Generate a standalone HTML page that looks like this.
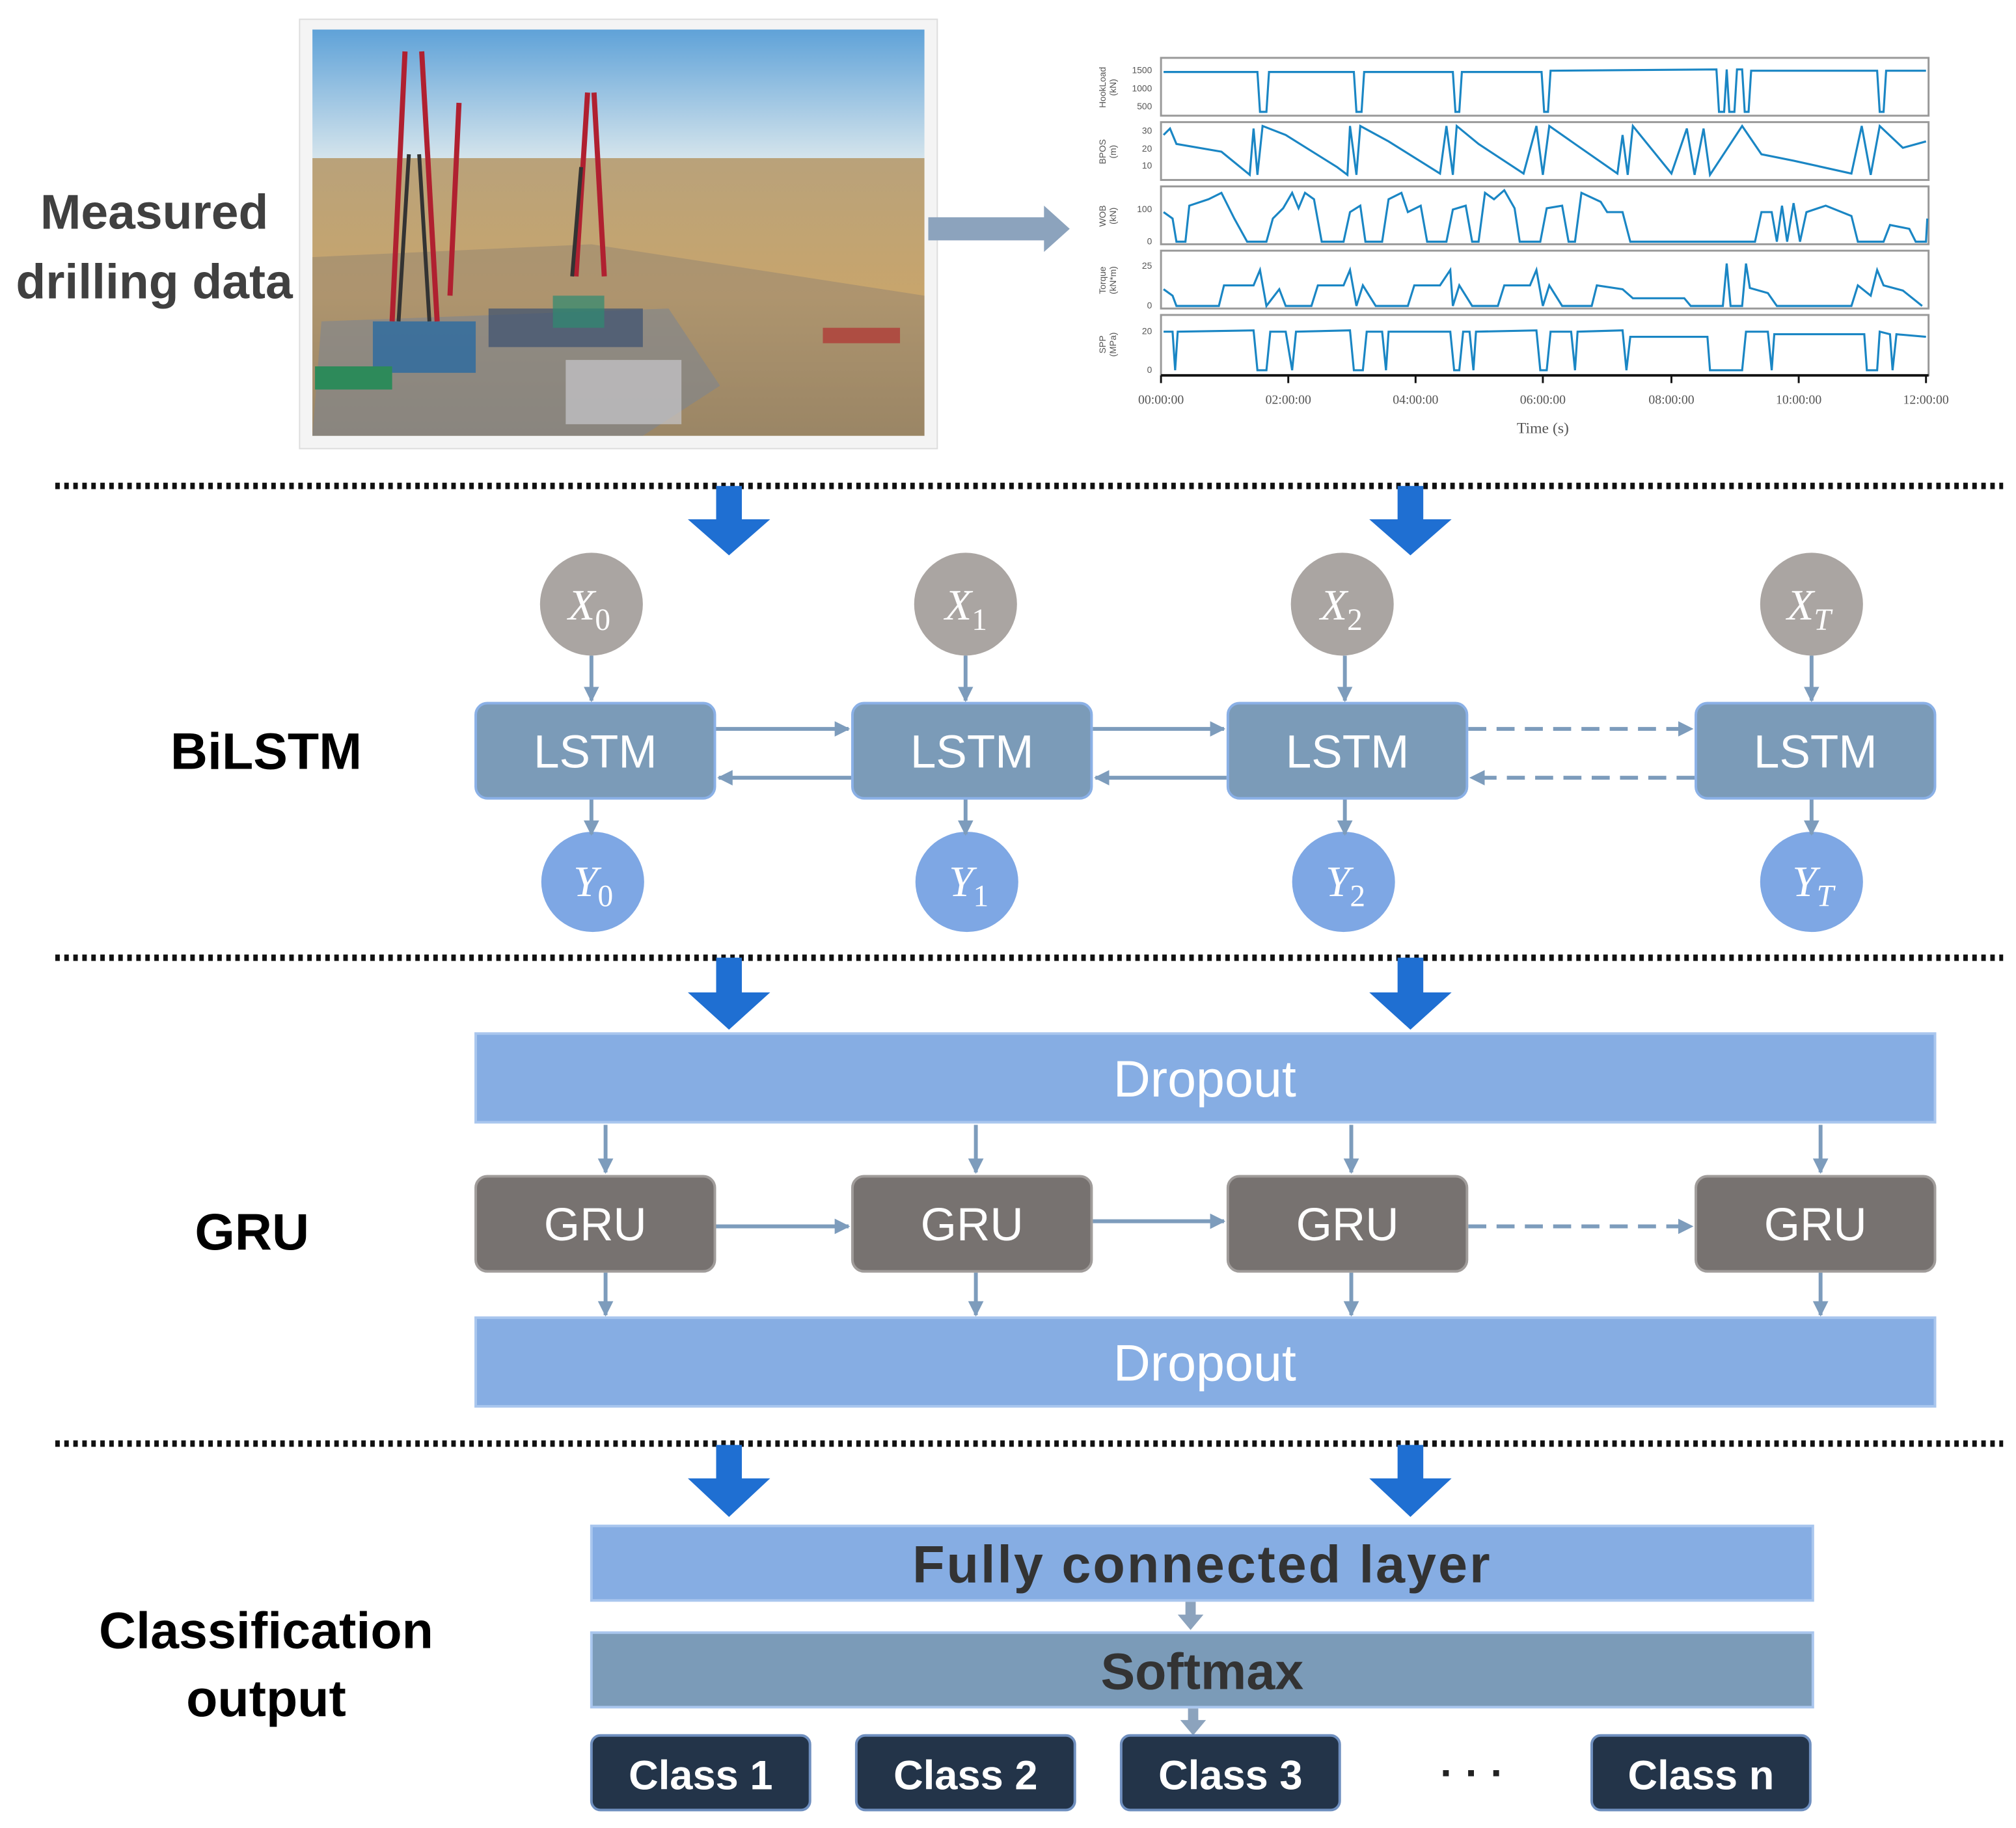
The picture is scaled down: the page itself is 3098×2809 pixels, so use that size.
<!DOCTYPE html>
<html><head><meta charset="utf-8"><style>
html,body{margin:0;padding:0;background:#fff;}
svg{display:block;}
</style></head><body>
<svg width="3098" height="2809" viewBox="0 0 1568 1422" preserveAspectRatio="none" xmlns="http://www.w3.org/2000/svg" font-family="Liberation Sans, sans-serif">
<defs>
<linearGradient id="sky" x1="0" y1="0" x2="0" y2="1"><stop offset="0" stop-color="#5fa2d8"/><stop offset="1" stop-color="#d4e4ec"/></linearGradient>
<linearGradient id="field" x1="0" y1="0" x2="0" y2="1"><stop offset="0" stop-color="#b9a27a"/><stop offset="0.5" stop-color="#c8a56c"/><stop offset="1" stop-color="#a58a5c"/></linearGradient>
<marker id="ah" viewBox="0 0 10 10" refX="9" refY="5" markerWidth="4" markerHeight="4" orient="auto"><path d="M0,0 L10,5 L0,10 z" fill="#7d9cbc"/></marker>
</defs>

<!-- photo -->
<rect x="233" y="15" width="496" height="334" fill="#f4f4f4" stroke="#ddd"/>
<rect x="243" y="23" width="476" height="100" fill="url(#sky)"/>
<rect x="243" y="123" width="476" height="216" fill="url(#field)"/>
<polygon points="243,200 460,190 719,230 719,339 243,339" fill="#8d8070" opacity="0.45"/>
<polygon points="250,250 520,240 560,300 500,339 243,339" fill="#7e8590" opacity="0.6"/>
<rect x="290" y="250" width="80" height="40" fill="#2a6aa0" opacity="0.8"/>
<rect x="380" y="240" width="120" height="30" fill="#3a5070" opacity="0.7"/>
<rect x="430" y="230" width="40" height="25" fill="#2e8a70" opacity="0.7"/>
<rect x="245" y="285" width="60" height="18" fill="#2d8a5a"/>
<rect x="440" y="280" width="90" height="50" fill="#c8c8cc" opacity="0.7"/>
<rect x="640" y="255" width="60" height="12" fill="#b03030" opacity="0.7"/>
<g stroke="#b02030" stroke-width="4"><line x1="315" y1="40" x2="305" y2="250"/><line x1="328" y1="40" x2="340" y2="250"/><line x1="357" y1="80" x2="350" y2="230"/><line x1="457" y1="72" x2="448" y2="215"/><line x1="462" y1="72" x2="470" y2="215"/></g>
<g stroke="#333" stroke-width="3"><line x1="318" y1="120" x2="310" y2="250"/><line x1="326" y1="120" x2="334" y2="250"/><line x1="452" y1="130" x2="445" y2="215"/></g>

<!-- measured text -->
<text x="120" y="178" font-size="38" font-weight="bold" fill="#404040" text-anchor="middle">Measured</text>
<text x="120" y="232" font-size="38" font-weight="bold" fill="#404040" text-anchor="middle">drilling data</text>

<!-- grey arrow -->
<polygon points="722,169 812,169 812,160 832,178 812,196 812,187 722,187" fill="#8ca3bd"/>

<!-- chart -->
<g fill="none" stroke="#999" stroke-width="1.5">
<rect x="903" y="45" width="597" height="45"/>
<rect x="903" y="95" width="597" height="45"/>
<rect x="903" y="145" width="597" height="45"/>
<rect x="903" y="195" width="597" height="45"/>
<rect x="903" y="245" width="597" height="47"/>
</g>
<line x1="903" y1="292" x2="1500" y2="292" stroke="#111" stroke-width="2"/>
<g stroke="#111" stroke-width="1.5">
<line x1="903" y1="292" x2="903" y2="298"/><line x1="1002" y1="292" x2="1002" y2="298"/><line x1="1101" y1="292" x2="1101" y2="298"/><line x1="1200" y1="292" x2="1200" y2="298"/><line x1="1300" y1="292" x2="1300" y2="298"/><line x1="1399" y1="292" x2="1399" y2="298"/><line x1="1498" y1="292" x2="1498" y2="298"/>
</g>
<g font-family="Liberation Serif, serif" font-size="10" fill="#555" text-anchor="middle">
<text x="903" y="314">00:00:00</text><text x="1002" y="314">02:00:00</text><text x="1101" y="314">04:00:00</text><text x="1200" y="314">06:00:00</text><text x="1300" y="314">08:00:00</text><text x="1399" y="314">10:00:00</text><text x="1498" y="314">12:00:00</text>
<text x="1200" y="337" font-size="12">Time (s)</text>
</g>
<g font-size="7" fill="#555" text-anchor="end">
<text x="896" y="57">1500</text><text x="896" y="71">1000</text><text x="896" y="85">500</text>
<text x="896" y="104">30</text><text x="896" y="118">20</text><text x="896" y="131">10</text>
<text x="896" y="165">100</text><text x="896" y="190">0</text>
<text x="896" y="209">25</text><text x="896" y="240">0</text>
<text x="896" y="260">20</text><text x="896" y="290">0</text>
</g>
<g font-size="7" fill="#555" text-anchor="middle">
<text transform="translate(860,68) rotate(-90)">HookLoad</text><text transform="translate(868,68) rotate(-90)">(kN)</text>
<text transform="translate(860,118) rotate(-90)">BPOS</text><text transform="translate(868,118) rotate(-90)">(m)</text>
<text transform="translate(860,168) rotate(-90)">WOB</text><text transform="translate(868,168) rotate(-90)">(kN)</text>
<text transform="translate(860,218) rotate(-90)">Torque</text><text transform="translate(868,218) rotate(-90)">(kN*m)</text>
<text transform="translate(860,268) rotate(-90)">SPP</text><text transform="translate(868,268) rotate(-90)">(MPa)</text>
</g>
<g fill="none" stroke="#1a86c4" stroke-width="1.6">
<path d="M905,56 L978,56 L980,87 L985,87 L987,56 L1053,56 L1055,87 L1059,87 L1061,56 L1130,56 L1132,87 L1135,87 L1137,56 L1199,56 L1201,87 L1204,87 L1206,55 L1335,54 L1337,87 L1341,87 L1343,54 L1345,87 L1349,87 L1351,54 L1355,54 L1357,87 L1360,87 L1362,55 L1460,55 L1462,87 L1465,87 L1467,55 L1498,55"/>
<path d="M905,105 L910,100 L915,112 L950,118 L972,136 L975,100 L978,136 L982,98 L1000,105 L1040,130 L1048,136 L1050,98 L1055,136 L1058,98 L1080,110 L1120,135 L1125,98 L1130,136 L1133,98 L1150,112 L1185,135 L1195,98 L1200,136 L1205,98 L1225,112 L1258,135 L1262,105 L1266,136 L1270,98 L1300,135 L1312,100 L1318,136 L1325,100 L1330,136 L1355,98 L1370,120 L1395,125 L1440,135 L1448,98 L1455,136 L1462,98 L1480,115 L1498,110"/>
<path d="M905,165 L912,170 L915,188 L922,188 L925,160 L940,155 L950,150 L960,170 L970,188 L985,188 L990,170 L998,162 L1005,150 L1010,162 L1015,150 L1022,155 L1028,188 L1045,188 L1050,165 L1058,160 L1062,188 L1075,188 L1080,155 L1090,150 L1095,165 L1105,160 L1110,188 L1125,188 L1130,163 L1140,160 L1145,188 L1150,188 L1155,150 L1162,155 L1170,148 L1178,162 L1182,188 L1198,188 L1203,162 L1215,160 L1220,188 L1225,188 L1230,150 L1245,157 L1250,165 L1262,165 L1268,188 L1365,188 L1370,165 L1378,165 L1382,188 L1386,160 L1390,188 L1395,158 L1400,188 L1405,165 L1420,160 L1440,168 L1445,188 L1465,188 L1470,175 L1485,178 L1490,188 L1498,188 L1499,170"/>
<path d="M905,225 L912,230 L915,238 L948,238 L952,222 L975,222 L980,210 L985,238 L995,225 L1000,238 L1020,238 L1025,222 L1045,222 L1050,210 L1055,238 L1060,222 L1070,238 L1095,238 L1100,222 L1120,222 L1128,210 L1130,238 L1135,222 L1145,238 L1165,238 L1170,222 L1190,222 L1195,210 L1200,238 L1205,222 L1215,238 L1238,238 L1242,222 L1262,225 L1270,232 L1310,232 L1315,238 L1340,238 L1343,205 L1346,238 L1355,238 L1358,205 L1361,224 L1375,228 L1382,238 L1440,238 L1445,222 L1455,230 L1460,210 L1465,222 L1480,226 L1495,238"/>
<path d="M905,258 L912,258 L914,288 L916,258 L975,257 L978,288 L985,288 L988,258 L1000,258 L1005,288 L1008,258 L1050,257 L1053,288 L1060,288 L1063,258 L1075,258 L1078,288 L1080,258 L1128,258 L1131,288 L1135,288 L1138,258 L1143,258 L1146,288 L1148,258 L1195,257 L1198,288 L1203,288 L1206,258 L1222,258 L1225,288 L1227,258 L1262,257 L1265,288 L1268,262 L1328,262 L1330,288 L1355,288 L1358,258 L1375,258 L1378,288 L1380,260 L1450,260 L1452,288 L1460,288 L1462,258 L1470,260 L1472,288 L1475,260 L1498,262"/>
</g>

<!-- dotted separators -->
<g stroke="#111" stroke-width="5" stroke-dasharray="3.5,3.5">
<line x1="43" y1="378" x2="1558" y2="378"/>
<line x1="43" y1="745" x2="1558" y2="745"/>
<line x1="43" y1="1123" x2="1558" y2="1123"/>
</g>

<!-- big blue arrows -->
<g fill="#1f6fd2">
<polygon points="557,378 577,378 577,404 599,404 567,432 535,404 557,404"/>
<polygon points="1087,378 1107,378 1107,404 1129,404 1097,432 1065,404 1087,404"/>
<polygon points="557,745 577,745 577,772 599,772 567,801 535,772 557,772"/>
<polygon points="1087,745 1107,745 1107,772 1129,772 1097,801 1065,772 1087,772"/>
<polygon points="557,1124 577,1124 577,1150 599,1150 567,1180 535,1150 557,1150"/>
<polygon points="1087,1124 1107,1124 1107,1150 1129,1150 1097,1180 1065,1150 1087,1150"/>
</g>

<!-- labels -->
<text x="207" y="598" font-size="40" font-weight="bold" fill="#000" text-anchor="middle">BiLSTM</text>
<text x="196" y="972" font-size="40" font-weight="bold" fill="#000" text-anchor="middle">GRU</text>
<text x="207" y="1282" font-size="40" font-weight="bold" fill="#000" text-anchor="middle">Classification</text>
<text x="207" y="1335" font-size="40" font-weight="bold" fill="#000" text-anchor="middle">output</text>

<!-- X circles -->
<g fill="#aaa5a2">
<ellipse cx="460" cy="470" rx="40" ry="40"/><ellipse cx="751" cy="470" rx="40" ry="40"/><ellipse cx="1044" cy="470" rx="40" ry="40"/><ellipse cx="1409" cy="470" rx="40" ry="40"/>
</g>
<g font-family="Liberation Serif, serif" font-style="italic" font-size="34" fill="#fff">
<text x="442" y="482">X<tspan font-size="24" font-style="normal" dy="8">0</tspan></text>
<text x="735" y="482">X<tspan font-size="24" font-style="normal" dy="8">1</tspan></text>
<text x="1027" y="482">X<tspan font-size="24" font-style="normal" dy="8">2</tspan></text>
<text x="1390" y="482">X<tspan font-size="24" dy="8">T</tspan></text>
</g>
<!-- Y circles -->
<g fill="#7ea7e4">
<ellipse cx="461" cy="686" rx="40" ry="39"/><ellipse cx="752" cy="686" rx="40" ry="39"/><ellipse cx="1045" cy="686" rx="40" ry="39"/><ellipse cx="1409" cy="686" rx="40" ry="39"/>
</g>
<g font-family="Liberation Serif, serif" font-style="italic" font-size="34" fill="#fff">
<text x="446" y="697">Y<tspan font-size="24" font-style="normal" dy="8">0</tspan></text>
<text x="738" y="697">Y<tspan font-size="24" font-style="normal" dy="8">1</tspan></text>
<text x="1031" y="697">Y<tspan font-size="24" font-style="normal" dy="8">2</tspan></text>
<text x="1394" y="697">Y<tspan font-size="24" dy="8">T</tspan></text>
</g>

<!-- thin arrows -->
<g stroke="#7d9cbc" stroke-width="3" marker-end="url(#ah)" fill="none">
<line x1="460" y1="510" x2="460" y2="545"/><line x1="751" y1="510" x2="751" y2="545"/><line x1="1046" y1="510" x2="1046" y2="545"/><line x1="1409" y1="510" x2="1409" y2="545"/>
<line x1="460" y1="621" x2="460" y2="649"/><line x1="751" y1="621" x2="751" y2="649"/><line x1="1046" y1="621" x2="1046" y2="649"/><line x1="1409" y1="621" x2="1409" y2="649"/>
<line x1="557" y1="567" x2="660" y2="567"/><line x1="850" y1="567" x2="952" y2="567"/>
<line x1="662" y1="605" x2="559" y2="605"/><line x1="954" y1="605" x2="852" y2="605"/>
<line x1="1142" y1="567" x2="1316" y2="567" stroke-dasharray="14,8"/>
<line x1="1318" y1="605" x2="1144" y2="605" stroke-dasharray="14,8"/>
<line x1="471" y1="875" x2="471" y2="912"/><line x1="759" y1="875" x2="759" y2="912"/><line x1="1051" y1="875" x2="1051" y2="912"/><line x1="1416" y1="875" x2="1416" y2="912"/>
<line x1="471" y1="990" x2="471" y2="1023"/><line x1="759" y1="990" x2="759" y2="1023"/><line x1="1051" y1="990" x2="1051" y2="1023"/><line x1="1416" y1="990" x2="1416" y2="1023"/>
<line x1="557" y1="954" x2="660" y2="954"/><line x1="850" y1="950" x2="952" y2="950"/>
<line x1="1142" y1="954" x2="1316" y2="954" stroke-dasharray="14,8"/>
</g>
<g fill="#8ca3bd">
<polygon points="922,1246 930,1246 930,1256 936,1256 926,1268 916,1256 922,1256"/>
<polygon points="924,1329 932,1329 932,1338 938,1338 928,1350 918,1338 924,1338"/>
</g>

<!-- LSTM boxes -->
<g fill="#7b9bb8" stroke="#8ab0e6" stroke-width="2">
<rect x="370" y="547" width="186" height="74" rx="9"/><rect x="663" y="547" width="186" height="74" rx="9"/><rect x="955" y="547" width="186" height="74" rx="9"/><rect x="1319" y="547" width="186" height="74" rx="9"/>
</g>
<g font-size="36" fill="#fff" text-anchor="middle">
<text x="463" y="597">LSTM</text><text x="756" y="597">LSTM</text><text x="1048" y="597">LSTM</text><text x="1412" y="597">LSTM</text>
</g>

<!-- Dropouts -->
<rect x="370" y="804" width="1135" height="69" fill="#86ade3" stroke="#a9c6ee" stroke-width="2"/>
<rect x="370" y="1025" width="1135" height="69" fill="#86ade3" stroke="#a9c6ee" stroke-width="2"/>
<g font-size="40" fill="#fff" text-anchor="middle">
<text x="937" y="853">Dropout</text><text x="937" y="1074">Dropout</text>
</g>

<!-- GRU boxes -->
<g fill="#777270" stroke="#a09c9a" stroke-width="2">
<rect x="370" y="915" width="186" height="74" rx="9"/><rect x="663" y="915" width="186" height="74" rx="9"/><rect x="955" y="915" width="186" height="74" rx="9"/><rect x="1319" y="915" width="186" height="74" rx="9"/>
</g>
<g font-size="36" fill="#fff" text-anchor="middle">
<text x="463" y="965">GRU</text><text x="756" y="965">GRU</text><text x="1048" y="965">GRU</text><text x="1412" y="965">GRU</text>
</g>

<!-- FC & softmax -->
<rect x="460" y="1187" width="950" height="58" fill="#86ade3" stroke="#a9c6ee" stroke-width="2"/>
<text x="935" y="1231" font-size="41" font-weight="bold" fill="#333" text-anchor="middle" letter-spacing="1.5">Fully connected layer</text>
<rect x="460" y="1270" width="950" height="58" fill="#7b9bb8" stroke="#a9c6ee" stroke-width="2"/>
<text x="935" y="1314" font-size="40" font-weight="bold" fill="#333" text-anchor="middle">Softmax</text>

<!-- classes -->
<g fill="#233449" stroke="#6f8fbf" stroke-width="2">
<rect x="460" y="1350" width="170" height="58" rx="7"/><rect x="666" y="1350" width="170" height="58" rx="7"/><rect x="872" y="1350" width="170" height="58" rx="7"/><rect x="1238" y="1350" width="170" height="58" rx="7"/>
</g>
<g font-size="32" font-weight="bold" fill="#fff" text-anchor="middle">
<text x="545" y="1392">Class 1</text><text x="751" y="1392">Class 2</text><text x="957" y="1392">Class 3</text><text x="1323" y="1392">Class n</text>
</g>
<text x="1145" y="1390" font-size="32" font-weight="bold" fill="#222" text-anchor="middle">· · ·</text>
</svg>
</body></html>
